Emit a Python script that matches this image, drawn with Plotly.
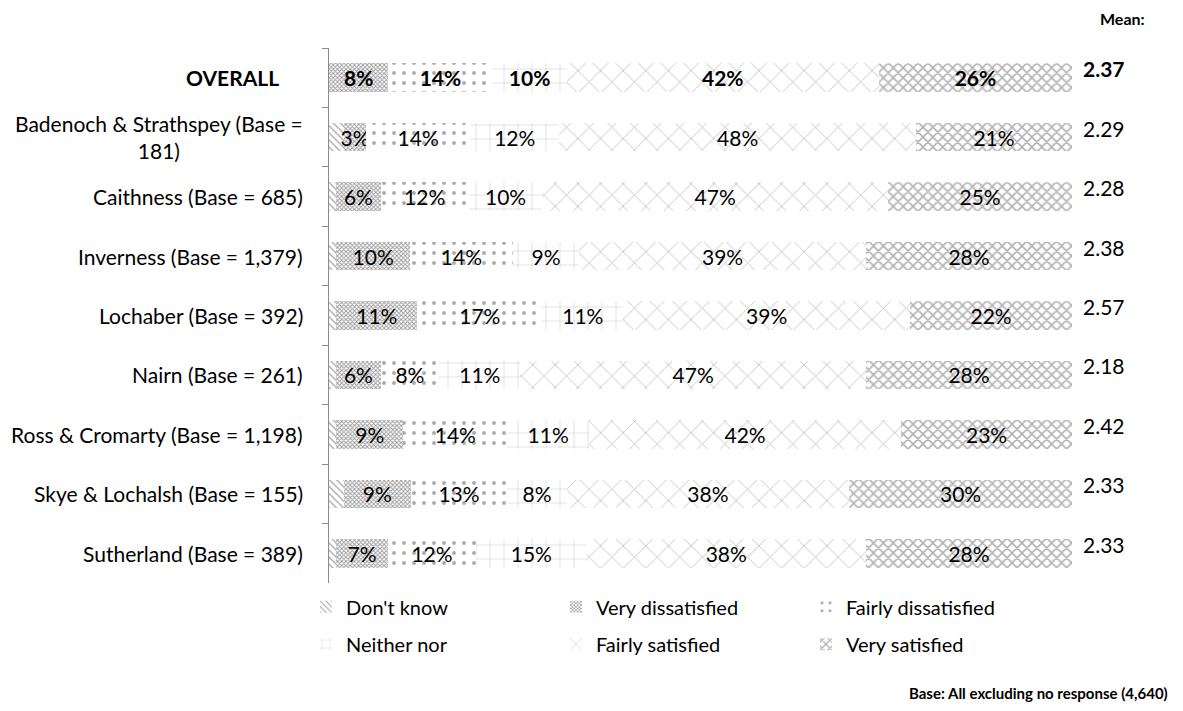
import plotly.graph_objects as go

categories = [
    "OVERALL",
    "Badenoch & Strathspey (Base =<br>181)",
    "Caithness (Base = 685)",
    "Inverness (Base = 1,379)",
    "Lochaber (Base = 392)",
    "Nairn (Base = 261)",
    "Ross & Cromarty (Base = 1,198)",
    "Skye & Lochalsh (Base = 155)",
    "Sutherland (Base = 389)",
]
dont_know = [0, 2, 1, 1, 1, 1, 1, 2, 1]
very_dissatisfied = [8, 3, 6, 10, 11, 6, 9, 9, 7]
fairly_dissatisfied = [14, 14, 12, 14, 17, 8, 14, 13, 12]
neither_nor = [10, 12, 10, 9, 11, 11, 11, 8, 15]
fairly_satisfied = [42, 48, 47, 39, 39, 47, 42, 38, 38]
very_satisfied = [26, 21, 25, 28, 22, 28, 23, 30, 28]
means = ["2.37", "2.29", "2.28", "2.38", "2.57", "2.18", "2.42", "2.33", "2.33"]

series = [
    ("Don't know", dont_know, dict(shape="\\", size=5, solidity=0.3, fgcolor="#666666"), False, "legend"),
    ("Very dissatisfied", very_dissatisfied, dict(shape="x", size=3, solidity=0.5, fgcolor="#333333"), True, "legend"),
    ("Fairly dissatisfied", fairly_dissatisfied, dict(shape=".", size=10, solidity=0.12, fgcolor="#555555"), True, "legend"),
    ("Neither nor", neither_nor, dict(shape="+", size=14, solidity=0.06, fgcolor="#777777"), True, "legend2"),
    ("Fairly satisfied", fairly_satisfied, dict(shape="x", size=16, solidity=0.1, fgcolor="#7a7a7a"), True, "legend2"),
    ("Very satisfied", very_satisfied, dict(shape="x", size=7, solidity=0.4, fgcolor="#666666"), True, "legend2"),
]

FONT = "Lato"
fig = go.Figure()
for name, vals, pat, show_text, leg in series:
    texts = []
    for i, v in enumerate(vals):
        if not show_text:
            texts.append("")
        elif i == 0:
            texts.append(f"<b>{v}%</b>")
        else:
            texts.append(f"{v}%")
    fig.add_trace(go.Bar(
        name=name, y=categories, x=vals, orientation="h", legend=leg,
        marker=dict(color="white", line=dict(width=0),
                    pattern=dict(bgcolor="white", **pat)),
        text=texts, textposition="inside", insidetextanchor="middle",
        textangle=0, constraintext="none",
        textfont=dict(family=FONT, size=21, color="black"),
        hoverinfo="skip",
    ))

annotations = []
for i, c in enumerate(categories):
    is_overall = i == 0
    annotations.append(dict(
        x=0, xref="paper", y=c, yref="y", xanchor="right", yanchor="middle",
        xshift=-48 if is_overall else -24, align="center", showarrow=False,
        text=f"<b>{c}</b>" if is_overall else c,
        font=dict(family=FONT, size=21, color="black"),
    ))
    annotations.append(dict(
        x=1, xref="paper", y=c, yref="y", xanchor="left", yanchor="middle",
        xshift=9, yshift=9, showarrow=False,
        text=f"<b>{means[i]}</b>" if is_overall else means[i],
        font=dict(family=FONT, size=21, color="black"),
    ))
annotations.append(dict(
    x=1, xref="paper", y=1, yref="paper", xanchor="left", yanchor="middle",
    xshift=26, yshift=30, showarrow=False, text="<b>Mean:</b>",
    font=dict(family=FONT, size=16, color="black"),
))
annotations.append(dict(
    x=1, xref="paper", y=0, yref="paper", xanchor="right", yanchor="middle",
    xshift=98, yshift=-110, showarrow=False,
    text="<b>Base: All excluding no response (4,640)</b>",
    font=dict(family=FONT, size=15, color="black"),
))

legend_common = dict(
    orientation="h", xanchor="left", yanchor="top",
    entrywidth=205, font=dict(family=FONT, size=20, color="black"),
    traceorder="normal", itemwidth=30, bgcolor="rgba(0,0,0,0)",
)

fig.update_layout(
    width=1167, height=695,
    margin=dict(l=321, r=103, t=40, b=120, autoexpand=False),
    paper_bgcolor="white", plot_bgcolor="white",
    barmode="stack", barnorm="percent", bargap=0.52,
    showlegend=True,
    legend=dict(x=-0.031, y=-0.008, **legend_common),
    legend2=dict(x=-0.031, y=-0.078, **legend_common),
    xaxis=dict(visible=False, range=[0, 100], fixedrange=True),
    yaxis=dict(
        autorange="reversed", showticklabels=False, showgrid=False,
        showline=True, linecolor="#8c8c8c", linewidth=1,
        ticks="outside", ticklen=6, tickcolor="#8c8c8c", tickson="boundaries",
        zeroline=False,
    ),
    annotations=annotations,
)

fig.write_html("out.html")
